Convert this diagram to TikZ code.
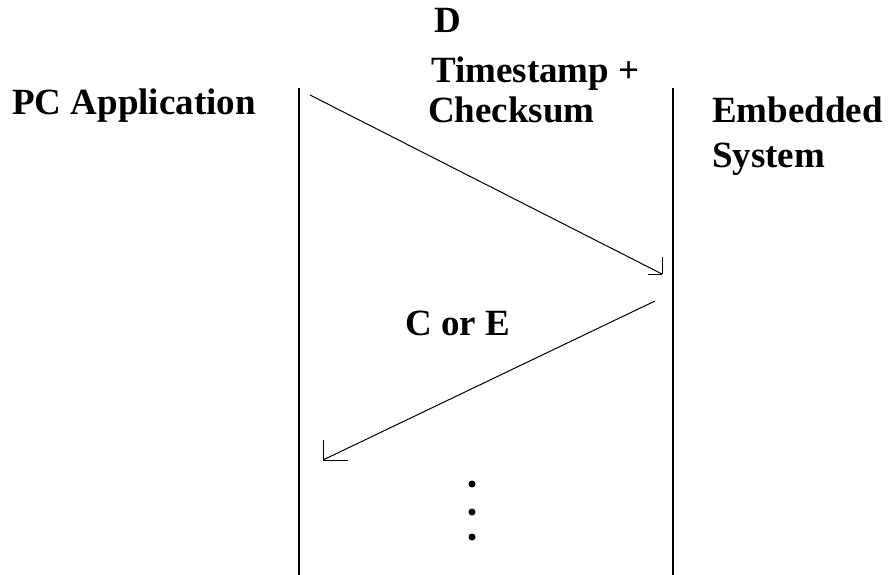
\documentclass[tikz,border=0pt]{standalone}
\usepackage{fontspec}
\setmainfont{Liberation Serif}
\begin{document}
\begin{tikzpicture}[x=1pt,y=-1pt,
  lbl/.style={anchor=base west,inner sep=0pt,font=\fontsize{37}{42}\selectfont\bfseries},
  life/.style={line width=1.4pt},
  msg/.style={line width=1pt},
  dotm/.style={circle,fill=black,inner sep=0pt,minimum size=7pt}]
\useasboundingbox[fill=white] (0,0) rectangle (888,575);
% lifelines
\coordinate (l1) at (299,88); \coordinate (l1b) at (299,575);
\coordinate (r1) at (673,88); \coordinate (r1b) at (673,575);
\draw[life] (l1) -- (l1b);
\draw[life] (r1) -- (r1b);
% labels
\node[lbl] (pc) at (12,115) {PC Application};
\node[lbl] (emb) at (712,123) {Embedded};
\node[lbl] (sys) at (712,167) {System};
\node[lbl] (d) at (434,33) {D};
\node[lbl] (ts) at (431,83) {Timestamp +};
\node[lbl] (cs) at (428,122) {Checksum};
\node[lbl] (ce) at (405,335) {C or E};
% message 1
\coordinate (a1s) at (310,95);
\coordinate (a1e) at (662,274);
\draw[msg] (a1s) -- (a1e);
\draw[msg] (a1e) -- ++(0,-17);
\draw[msg] (a1e) -- ++(-14,0);
% message 2
\coordinate (a2s) at (655,301);
\coordinate (a2e) at (323,460);
\draw[msg] (a2s) -- (a2e);
\draw[msg] (a2e) -- ++(0,-20);
\draw[msg] (a2e) -- ++(25,0);
% dots
\node[dotm] (p1) at (472,484) {};
\node[dotm] (p2) at (472,512) {};
\node[dotm] (p3) at (472,537) {};
\end{tikzpicture}
\end{document}
